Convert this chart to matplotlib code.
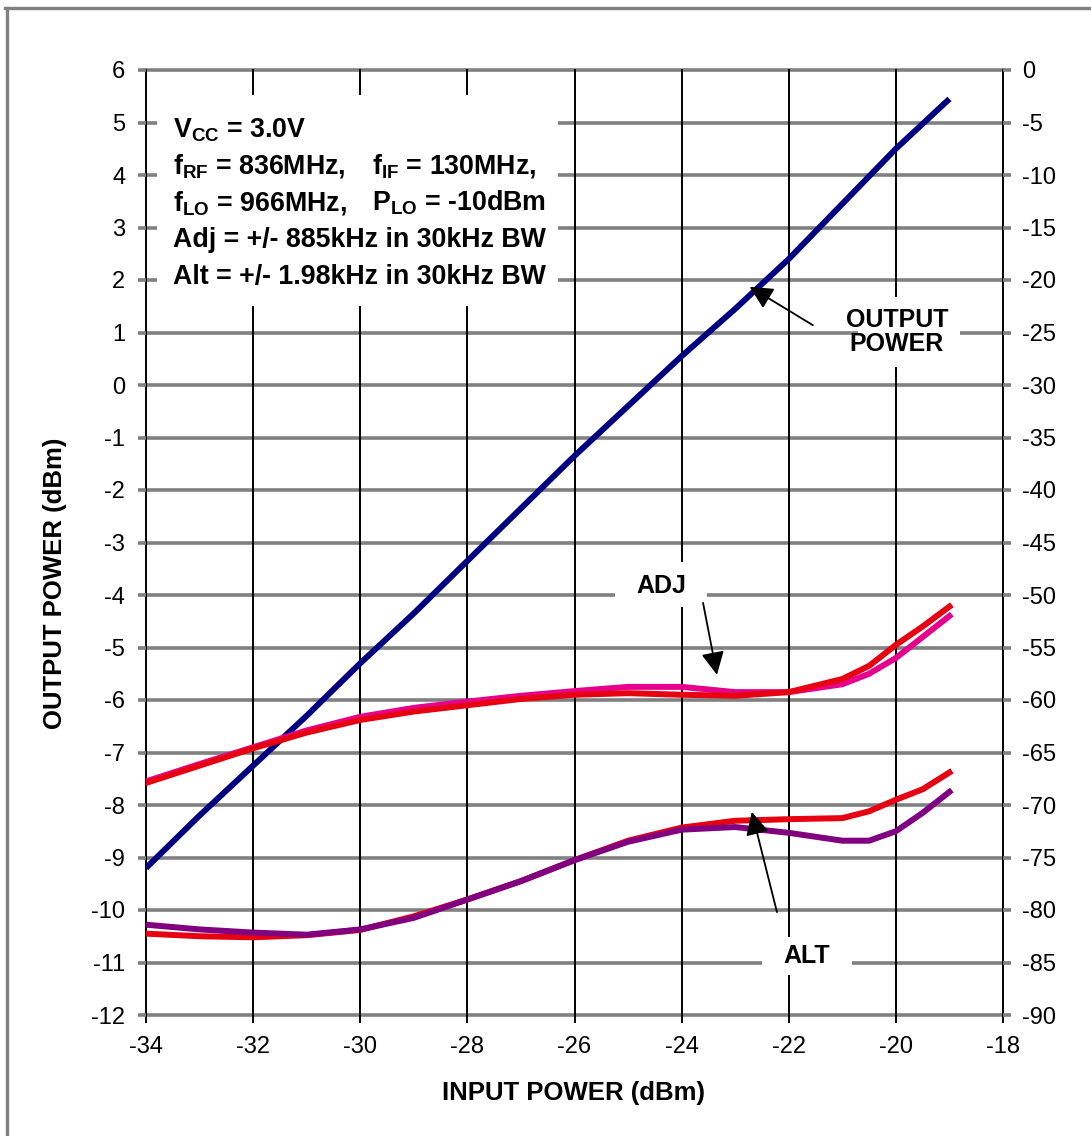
import matplotlib
matplotlib.use("Agg")
import matplotlib.pyplot as plt
from matplotlib.patches import Rectangle
from matplotlib.lines import Line2D

plt.rcParams['font.family'] = ['Liberation Sans', 'DejaVu Sans']
plt.rcParams['mathtext.fontset'] = 'custom'
plt.rcParams['mathtext.rm'] = 'Liberation Sans'
plt.rcParams['mathtext.bf'] = 'Liberation Sans:bold'
plt.rcParams['axes.unicode_minus'] = False

# ---------------- data ----------------
pin_out = [-34, -33, -32, -31, -30, -29, -28, -27, -26, -25, -24, -23, -22, -21, -20, -19]
pout = [-9.2, -8.2, -7.25, -6.3, -5.3, -4.35, -3.35, -2.35, -1.35, -0.4, 0.55, 1.45, 2.4, 3.45, 4.5, 5.45]

pin_acp = [-34, -33, -32, -31, -30, -29, -28, -27, -26, -25, -24, -23, -22, -21, -20.5, -20, -19.5, -19]
adj_red = [-7.58, -7.25, -6.92, -6.62, -6.38, -6.22, -6.1, -5.98, -5.9, -5.87, -5.9, -5.92, -5.85, -5.6, -5.35, -4.95, -4.6, -4.22]
adj_mag = [-7.55, -7.22, -6.9, -6.58, -6.32, -6.15, -6.03, -5.92, -5.83, -5.75, -5.75, -5.85, -5.85, -5.7, -5.5, -5.2, -4.8, -4.4]
alt_red = [-10.45, -10.5, -10.52, -10.48, -10.38, -10.12, -9.8, -9.45, -9.05, -8.68, -8.43, -8.3, -8.27, -8.25, -8.12, -7.9, -7.7, -7.38]
alt_pur = [-10.28, -10.37, -10.43, -10.47, -10.37, -10.15, -9.8, -9.45, -9.05, -8.7, -8.47, -8.42, -8.53, -8.68, -8.68, -8.5, -8.15, -7.75]

xticks = [-34, -32, -30, -28, -26, -24, -22, -20, -18]
yticks_left = list(range(-12, 7))
yticks_right = list(range(-90, 1, 5))

info_col1 = [r"V$_\mathregular{CC}$ = 3.0V",
             r"f$_\mathregular{RF}$ = 836MHz,",
             r"f$_\mathregular{LO}$ = 966MHz,",
             "Adj = +/- 885kHz in 30kHz BW",
             "Alt = +/- 1.98kHz in 30kHz BW"]
info_col2 = ["", r"f$_\mathregular{IF}$ = 130MHz,", r"P$_\mathregular{LO}$ = -10dBm", "", ""]
info_y = [4.72, 4.03, 3.33, 2.63, 1.92]

# ---------------- figure ----------------
W, H = 1091, 1136
fig = plt.figure(figsize=(W / 100, H / 100), dpi=100)
fig.patch.set_facecolor('white')
ax = fig.add_axes([146 / W, 1 - 1015 / H, (1003 - 146) / W, (1015 - 70) / H])
ax.set_xlim(-34, -18)
ax.set_ylim(-12, 6)
for s in ax.spines.values():
    s.set_visible(False)

GRAY = '#808080'
for y in yticks_left:
    ax.axhline(y, color=GRAY, lw=2.6, zorder=0.5, clip_on=False)
for x in xticks:
    ax.axvline(x, color='black', lw=1.4, zorder=0.6, clip_on=False)

TICK_FS = 17
ax.set_xticks(xticks)
ax.set_yticks(yticks_left)
ax.tick_params(axis='x', direction='out', length=6, width=1.4, color='black',
               labelsize=TICK_FS, pad=9)
ax.tick_params(axis='y', direction='out', length=6, width=2.6, color=GRAY,
               labelsize=TICK_FS, pad=9, left=True, right=False)

ax2 = ax.twinx()
ax2.set_ylim(-90, 0)
ax2.set_yticks(yticks_right)
for s in ax2.spines.values():
    s.set_visible(False)
ax2.tick_params(axis='y', direction='out', length=6, width=2.6, color=GRAY,
                labelsize=TICK_FS, pad=8)

# curves
ax.plot(pin_out, pout, color='#000080', lw=4.3, zorder=3, solid_capstyle='butt')
ax.plot(pin_acp, adj_mag, color='#e6008c', lw=4.3, zorder=3.1)
ax.plot(pin_acp, adj_red, color='#e60012', lw=4.3, zorder=3.2)
ax.plot(pin_acp, alt_red, color='#e60012', lw=4.3, zorder=3.1)
ax.plot(pin_acp, alt_pur, color='#800080', lw=4.3, zorder=3.2)

TXT_FS = 18
INFO_FS = 19.3
# info box
ax.add_patch(Rectangle((-33.8, 1.5), 7.5, 4.02, facecolor='white', edgecolor='none', zorder=1))
for t1, t2, yy in zip(info_col1, info_col2, info_y):
    ax.text(-33.5, yy, t1, fontsize=INFO_FS, fontweight='bold', va='baseline', ha='left', zorder=2)
    if t2:
        ax.text(-29.78, yy, t2, fontsize=INFO_FS, fontweight='bold', va='baseline', ha='left', zorder=2)

# labels with white boxes
ax.add_patch(Rectangle((-20.7, 0.34), 1.9, 1.34, facecolor='white', edgecolor='none', zorder=1))
ax.text(-19.98, 1.01, "OUTPUT\nPOWER", fontsize=TXT_FS, fontweight='bold', ha='center', va='center',
        linespacing=1.0, zorder=2)
ax.add_patch(Rectangle((-25.24, -4.23), 1.72, 0.86, facecolor='white', edgecolor='none', zorder=1))
ax.text(-24.38, -3.82, "ADJ", fontsize=TXT_FS, fontweight='bold', ha='center', va='center', zorder=2)
ax.add_patch(Rectangle((-22.5, -11.24), 1.68, 0.73, facecolor='white', edgecolor='none', zorder=1))
ax.text(-21.66, -10.88, "ALT", fontsize=TXT_FS, fontweight='bold', ha='center', va='center', zorder=2)

arrow_kw = dict(arrowstyle='-|>,head_length=0.7,head_width=0.35', color='black', lw=1.3,
                shrinkA=0, shrinkB=0, mutation_scale=20)
ax.annotate("", xy=(-22.73, 1.87), xytext=(-21.55, 1.14), arrowprops=arrow_kw, zorder=4)
ax.annotate("", xy=(-23.34, -5.52), xytext=(-23.6, -4.15), arrowprops=arrow_kw, zorder=4)
ax.annotate("", xy=(-22.69, -8.13), xytext=(-22.22, -10.04), arrowprops=arrow_kw, zorder=4)

# axis titles
fig.text(573 / W, 1 - 1093 / H, "INPUT POWER (dBm)", fontsize=18.5, fontweight='bold',
         ha='center', va='center')
fig.text(55 / W, 1 - 583 / H, "OUTPUT POWER (dBm)", fontsize=18.5, fontweight='bold',
         ha='center', va='center', rotation=90)

# outer frame (left and top)
fig.add_artist(Line2D([6.5 / W, 6.5 / W], [0, 1 - 8 / H], color=GRAY, lw=2.4, transform=fig.transFigure))
fig.add_artist(Line2D([5 / W, 1], [1 - 8 / H, 1 - 8 / H], color=GRAY, lw=2.4, transform=fig.transFigure))

fig.savefig("out.png", dpi=100, facecolor='white')
